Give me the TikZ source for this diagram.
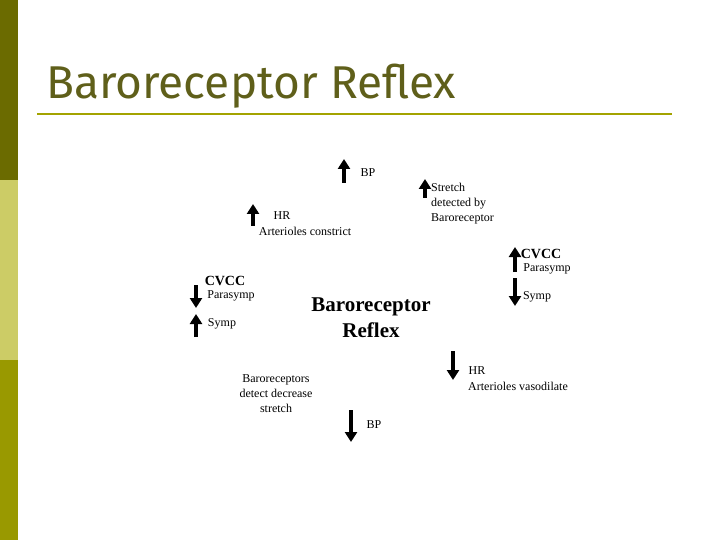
\documentclass[tikz,border=0pt]{standalone}
\usepackage{fontspec}
\setmainfont{Liberation Serif}
\newfontfamily\titlefont{Fira Sans}
\usetikzlibrary{arrows.meta}
\definecolor{olA}{HTML}{6B6B00}
\definecolor{olB}{HTML}{CCCC66}
\definecolor{olC}{HTML}{999900}
\definecolor{ttl}{HTML}{5F5F1A}
\definecolor{rule}{HTML}{A3A300}
\tikzset{
 blk/.style={line width=3.6pt,-{Triangle[length=10pt,width=12pt]}},
 lbl/.style={font=\fontsize{12}{15}\selectfont,inner sep=0pt},
 blbl/.style={font=\bfseries\fontsize{14}{15}\selectfont,inner sep=0pt}
}
\begin{document}
\begin{tikzpicture}[x=1pt,y=-1pt]
\useasboundingbox (0,0) rectangle (720,540);
\fill[white] (0,0) rectangle (720,540);
\fill[olA] (0,0) rectangle (18,180);
\fill[olB] (0,180) rectangle (18,360);
\fill[olC] (0,360) rectangle (18,540);
\node[anchor=base west,inner sep=0pt,text=ttl,font=\titlefont\fontsize{46}{50}\selectfont] (title) at (46,99) {Baroreceptor Reflex};
\coordinate (r1) at (37,114); \coordinate (r2) at (672,114);
\draw[rule,line width=2pt] (r1) -- (r2);
\coordinate (a1s) at (344,183); \coordinate (a1e) at (344,159);
\draw[blk] (a1s) -- (a1e);
\node[lbl] (bp1) at (368,173) {BP};
\coordinate (a2s) at (425,198); \coordinate (a2e) at (425,179);
\draw[blk] (a2s) -- (a2e);
\node[lbl,anchor=north west,align=left] (str) at (431,183) {Stretch\\detected by\\Baroreceptor};
\coordinate (a3s) at (253,226); \coordinate (a3e) at (253,204);
\draw[blk] (a3s) -- (a3e);
\node[lbl] (hr1) at (282,216) {HR};
\node[lbl] (art1) at (305,231) {Arterioles constrict};
\coordinate (a4s) at (515,272); \coordinate (a4e) at (515,247);
\draw[blk] (a4s) -- (a4e);
\node[blbl] (cv1) at (541,254) {CVCC};
\node[lbl] (ps1) at (547,269) {Parasymp};
\coordinate (a5s) at (515,278); \coordinate (a5e) at (515,306);
\draw[blk] (a5s) -- (a5e);
\node[lbl] (sy1) at (537,297) {Symp};
\node[blbl] (cv2) at (225,281) {CVCC};
\coordinate (a6s) at (196,285); \coordinate (a6e) at (196,308);
\draw[blk] (a6s) -- (a6e);
\node[lbl] (ps2) at (231,296) {Parasymp};
\coordinate (a7s) at (196,337); \coordinate (a7e) at (196,314);
\draw[blk] (a7s) -- (a7e);
\node[lbl] (sy2) at (222,324) {Symp};
\node[font=\bfseries\fontsize{21}{26}\selectfont,align=center,inner sep=0pt] (ctr) at (371,318) {Baroreceptor\\Reflex};
\coordinate (a8s) at (453,351); \coordinate (a8e) at (453,380);
\draw[blk] (a8s) -- (a8e);
\node[lbl] (hr2) at (477,371) {HR};
\node[lbl] (art2) at (518,386) {Arterioles vasodilate};
\node[lbl,align=center] (brc) at (276,394) {Baroreceptors\\detect decrease\\stretch};
\coordinate (a9s) at (351,410); \coordinate (a9e) at (351,442);
\draw[blk] (a9s) -- (a9e);
\node[lbl] (bp2) at (374,425) {BP};
\end{tikzpicture}
\end{document}
